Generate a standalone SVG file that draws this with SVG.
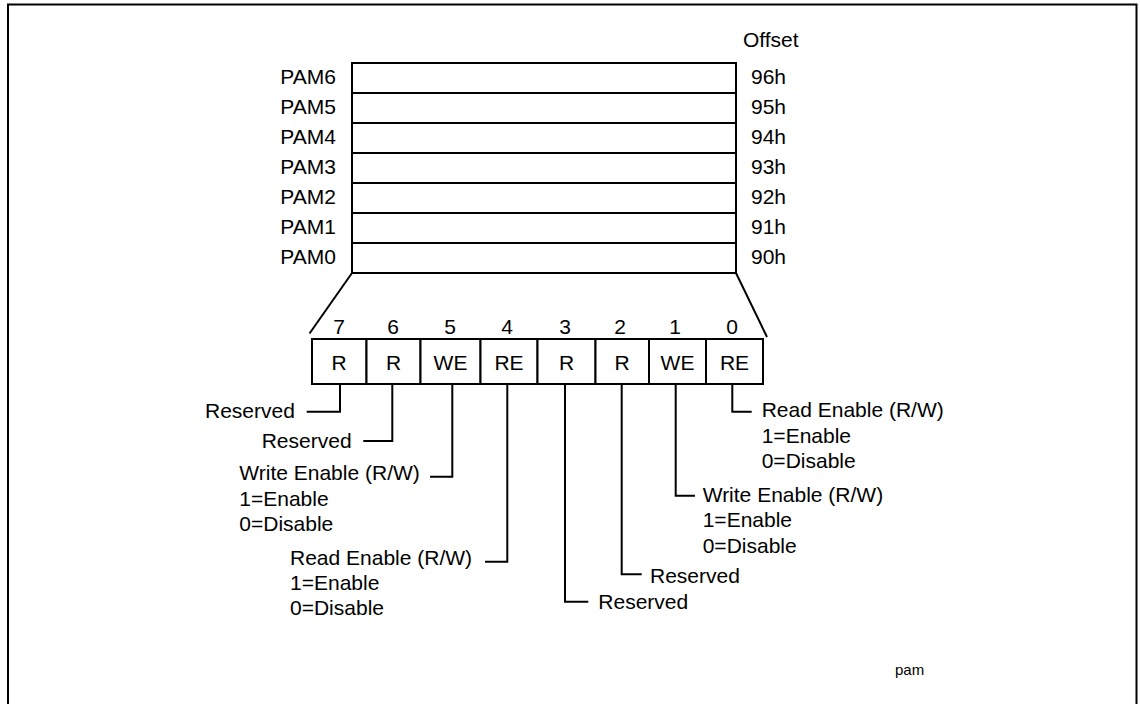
<svg xmlns="http://www.w3.org/2000/svg" width="1140" height="704" viewBox="0 0 1140 704">
<style>
text{font-family:"Liberation Sans",Arial,sans-serif;font-size:21px;fill:#000}
.end{text-anchor:end}
.mid{text-anchor:middle}
.box{fill:#fff;stroke:#000;stroke-width:2}
.ln{fill:none;stroke:#000;stroke-width:2}
</style>
<rect x="0" y="0" width="1140" height="704" fill="#fff"/>
<rect class="ln" x="8" y="4.5" width="1128.5" height="720"/>
<g id="registers">
<rect class="box" x="352" y="63" width="384" height="30"/>
<rect class="box" x="352" y="93" width="384" height="30"/>
<rect class="box" x="352" y="123" width="384" height="30"/>
<rect class="box" x="352" y="153" width="384" height="30"/>
<rect class="box" x="352" y="183" width="384" height="30"/>
<rect class="box" x="352" y="213" width="384" height="30"/>
<rect class="box" x="352" y="243" width="384" height="30"/>
<text class="end" x="336" y="84">PAM6</text>
<text class="end" x="336" y="114">PAM5</text>
<text class="end" x="336" y="144">PAM4</text>
<text class="end" x="336" y="174">PAM3</text>
<text class="end" x="336" y="204">PAM2</text>
<text class="end" x="336" y="234">PAM1</text>
<text class="end" x="336" y="264">PAM0</text>
<text x="743" y="47">Offset</text>
<text x="751" y="84">96h</text>
<text x="751" y="114">95h</text>
<text x="751" y="144">94h</text>
<text x="751" y="174">93h</text>
<text x="751" y="204">92h</text>
<text x="751" y="234">91h</text>
<text x="751" y="264">90h</text>
</g>
<g id="bits">
<rect class="box" x="312" y="339" width="54.5" height="45"/>
<rect class="box" x="366.5" y="339" width="54" height="45"/>
<rect class="box" x="420.5" y="339" width="60" height="45"/>
<rect class="box" x="480.5" y="339" width="57" height="45"/>
<rect class="box" x="537.5" y="339" width="58" height="45"/>
<rect class="box" x="595.5" y="339" width="53.5" height="45"/>
<rect class="box" x="649" y="339" width="57" height="45"/>
<rect class="box" x="706" y="339" width="57" height="45"/>
<text class="mid" x="339" y="334">7</text>
<text class="mid" x="393" y="334">6</text>
<text class="mid" x="450" y="334">5</text>
<text class="mid" x="507" y="334">4</text>
<text class="mid" x="565" y="334">3</text>
<text class="mid" x="620" y="334">2</text>
<text class="mid" x="675" y="334">1</text>
<text class="mid" x="732" y="334">0</text>
<text class="mid" x="339" y="370">R</text>
<text class="mid" x="393.5" y="370">R</text>
<text class="mid" x="450.5" y="370">WE</text>
<text class="mid" x="509" y="370">RE</text>
<text class="mid" x="566.5" y="370">R</text>
<text class="mid" x="622" y="370">R</text>
<text class="mid" x="677.5" y="370">WE</text>
<text class="mid" x="734.5" y="370">RE</text>
</g>
<g id="connectors">
<line class="ln" x1="352" y1="273" x2="309.5" y2="333.5"/>
<line class="ln" x1="736" y1="273" x2="767" y2="337"/>
<polyline class="ln" points="340,384 340,411.7 306.7,411.7"/>
<polyline class="ln" points="392.3,384 392.3,441 363.3,441"/>
<polyline class="ln" points="452.3,384 452.3,476.7 430,476.7"/>
<polyline class="ln" points="507.3,384 507.3,561.7 485,561.7"/>
<polyline class="ln" points="565,384 565,601.7 588.3,601.7"/>
<polyline class="ln" points="621.7,384 621.7,574.3 641.7,574.3"/>
<polyline class="ln" points="675.7,384 675.7,495.7 695,495.7"/>
<polyline class="ln" points="732.3,384 732.3,411.7 751.7,411.7"/>
</g>
<g id="labels">
<text x="205" y="418">Reserved</text>
<text x="261.7" y="448">Reserved</text>
<text x="239.3" y="480">Write Enable (R/W)</text>
<text x="239.3" y="506">1=Enable</text>
<text x="239.3" y="531">0=Disable</text>
<text x="290" y="565">Read Enable (R/W)</text>
<text x="290" y="590">1=Enable</text>
<text x="290" y="615">0=Disable</text>
<text x="761.7" y="417.3">Read Enable (R/W)</text>
<text x="761.7" y="443">1=Enable</text>
<text x="761.7" y="468.3">0=Disable</text>
<text x="702.7" y="501.7">Write Enable (R/W)</text>
<text x="702.7" y="527.3">1=Enable</text>
<text x="702.7" y="552.7">0=Disable</text>
<text x="650" y="582.7">Reserved</text>
<text x="598.3" y="609.3">Reserved</text>
<text x="895" y="675" style="font-size:15px">pam</text>
</g>
</svg>
